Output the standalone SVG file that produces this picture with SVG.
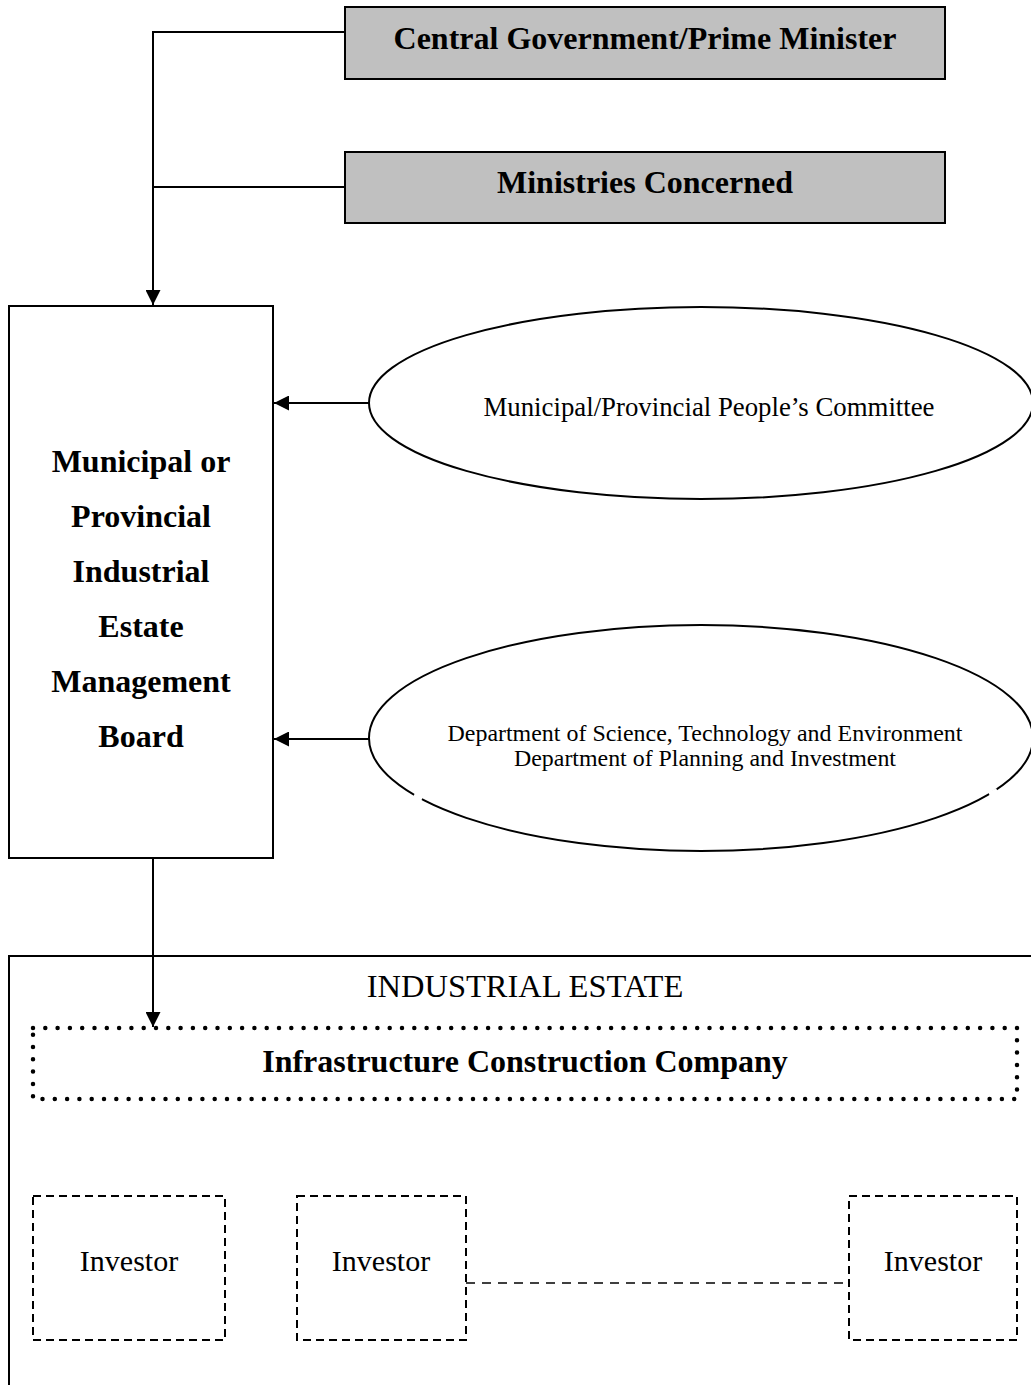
<svg xmlns="http://www.w3.org/2000/svg" width="1031" height="1385" viewBox="0 0 1031 1385">
<defs>
<style>
.t{font-family:"Liberation Serif","Times New Roman",serif;fill:#000;text-anchor:middle}
.b{font-weight:bold;font-size:32px}
.ln{stroke:#000;stroke-width:2;fill:none}
.gray{fill:#c0c0c0;stroke:#000;stroke-width:2}
.dash{fill:none;stroke:#000;stroke-width:2;stroke-dasharray:8 5}
.dot{fill:none;stroke:#000;stroke-width:4.5;stroke-linecap:round;stroke-dasharray:0 12.3}
</style>
<marker id="ah" viewBox="0 0 10 10" refX="10" refY="5" markerWidth="15" markerHeight="15" markerUnits="userSpaceOnUse" orient="auto">
<path d="M0,0 L10,5 L0,10 Z" fill="#000"/>
</marker>
</defs>
<rect width="1031" height="1385" fill="#fff"/>

<g id="industrial-estate">
<rect x="9" y="956" width="1040" height="450" class="ln"/>
<text class="t" x="525" y="997" font-size="32.5">INDUSTRIAL ESTATE</text>
</g>

<g id="central-government">
<rect x="345" y="7" width="600" height="72" class="gray"/>
<text class="t b" x="645" y="49">Central Government/Prime Minister</text>
</g>

<g id="ministries">
<rect x="345" y="152" width="600" height="71" class="gray"/>
<text class="t b" x="645" y="193">Ministries Concerned</text>
</g>

<g id="management-board">
<rect x="9" y="306" width="264" height="552" class="ln"/>
<text class="t b" x="141" y="472">Municipal or</text>
<text class="t b" x="141" y="527">Provincial</text>
<text class="t b" x="141" y="582">Industrial</text>
<text class="t b" x="141" y="637">Estate</text>
<text class="t b" x="141" y="692">Management</text>
<text class="t b" x="141" y="747">Board</text>
</g>

<g id="peoples-committee">
<ellipse cx="701" cy="403" rx="332" ry="96" class="ln"/>
<text class="t" x="709" y="416" font-size="26.8">Municipal/Provincial People’s Committee</text>
</g>

<g id="departments">
<ellipse cx="701" cy="738" rx="332" ry="113" class="ln"/>
<line x1="414" y1="795" x2="422" y2="799" stroke="#fff" stroke-width="4"/>
<line x1="989" y1="794" x2="997" y2="790" stroke="#fff" stroke-width="4"/>
<text class="t" x="705" y="741" font-size="22.5" textLength="515" lengthAdjust="spacingAndGlyphs">Department of Science, Technology and Environment</text>
<text class="t" x="705" y="766" font-size="22.5" textLength="382" lengthAdjust="spacingAndGlyphs">Department of Planning and Investment</text>
</g>

<g id="infrastructure-company">
<rect x="33" y="1028" width="984" height="71" class="dot"/>
<text class="t b" x="525" y="1072">Infrastructure Construction Company</text>
</g>

<g id="investor-1">
<rect x="33" y="1196" width="192" height="144" class="dash"/>
<text class="t" x="129" y="1271" font-size="30">Investor</text>
</g>
<g id="investor-2">
<rect x="297" y="1196" width="169" height="144" class="dash"/>
<text class="t" x="381" y="1271" font-size="30">Investor</text>
</g>
<g id="investor-3">
<rect x="849" y="1196" width="168" height="144" class="dash"/>
<text class="t" x="933" y="1271" font-size="30">Investor</text>
</g>

<g id="connectors">
<polyline points="345,32 153,32 153,305" class="ln" marker-end="url(#ah)"/>
<line x1="345" y1="187" x2="153" y2="187" class="ln"/>
<line x1="369" y1="403" x2="274" y2="403" class="ln" marker-end="url(#ah)"/>
<line x1="369" y1="739" x2="274" y2="739" class="ln" marker-end="url(#ah)"/>
<line x1="153" y1="858" x2="153" y2="1027" class="ln" marker-end="url(#ah)"/>
<line x1="466" y1="1283" x2="849" y2="1283" stroke="#000" stroke-width="1.5" stroke-dasharray="9 7"/>
</g>
</svg>
